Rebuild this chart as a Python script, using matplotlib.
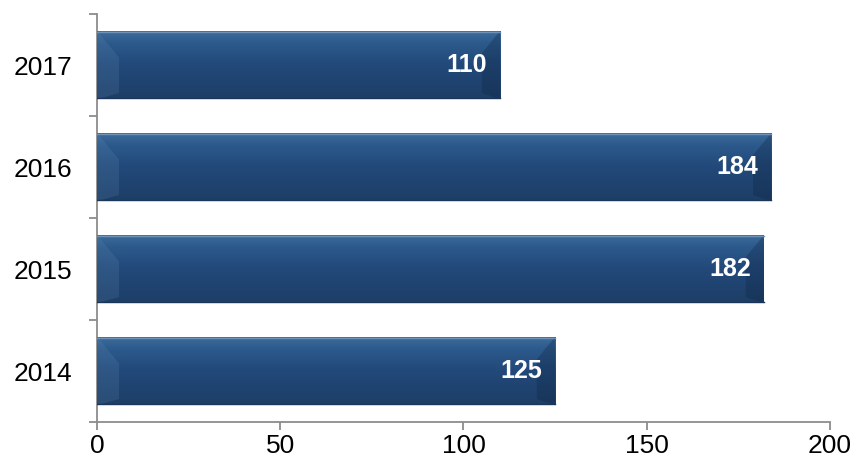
import numpy as np
import matplotlib
matplotlib.use("Agg")
import matplotlib.pyplot as plt
from matplotlib.colors import LinearSegmentedColormap
from matplotlib.patches import Polygon

years = ["2014", "2015", "2016", "2017"]
values = [125, 182, 184, 110]
x_ticks = [0, 50, 100, 150, 200]

plt.rcParams["font.family"] = ["Liberation Sans", "DejaVu Sans"]

fig = plt.figure(figsize=(8.64, 4.68), dpi=100)
ax = fig.add_axes([0.1123, 0.0983, 0.8483, 0.8717])

pos = np.arange(len(years))
bar_h = 0.67
bars = ax.barh(pos, values, height=bar_h, color="#23487a", edgecolor="none", zorder=2)

# vertical gradient for the glossy bar face
grad_cmap = LinearSegmentedColormap.from_list(
    "bevel", [(0.0, "#1d3e66"), (0.5, "#22497a"), (0.82, "#2c5a8c"), (1.0, "#3d6d9d")])
grad = np.linspace(0, 1, 256).reshape(-1, 1)

for bar, v, y in zip(bars, values, pos):
    y0, y1 = y - bar_h / 2, y + bar_h / 2
    im = ax.imshow(grad, extent=(0, v, y0, y1), origin="lower", cmap=grad_cmap,
                   aspect="auto", zorder=3, interpolation="bilinear")
    im.set_clip_path(bar)
    # left bevel (lighter facet)
    ax.add_patch(Polygon([(0, y1), (6.0, y1 - 0.26), (6.0, y0 + 0.06), (0, y0)],
                         closed=True, facecolor="#6b93bb", alpha=0.18, edgecolor="none", zorder=4))
    # right bevel (darker facet)
    ax.add_patch(Polygon([(v, y1), (v - 5.0, y1 - 0.22), (v - 5.0, y0 + 0.06), (v, y0)],
                         closed=True, facecolor="#0f2440", alpha=0.3, edgecolor="none", zorder=4))
    # soft top highlight and bottom edge
    ax.plot([0, v], [y1 - 0.01, y1 - 0.01], color="#6f93b8", lw=1.0, zorder=5)
    ax.plot([0, v], [y0 + 0.01, y0 + 0.01], color="#1a3658", lw=1.0, zorder=5)
    ax.annotate(str(v), xy=(v, y), xytext=(-9.5, 0), textcoords="offset points",
                ha="right", va="center", color="white", fontsize=18, fontweight="bold",
                zorder=6)

ax.set_xlim(0, 200)
ax.set_ylim(-0.5, len(years) - 0.5)
ax.set_xticks(x_ticks)
ax.set_xticklabels([str(t) for t in x_ticks])

ax.set_yticks(np.arange(-0.5, len(years), 1.0))
ax.set_yticklabels([])
ax.set_yticks(pos, minor=True)
ax.set_yticklabels(years, minor=True)

for s in ("top", "right"):
    ax.spines[s].set_visible(False)
for s in ("left", "bottom"):
    ax.spines[s].set_color("#8c8c8c")
    ax.spines[s].set_linewidth(1.3)

ax.tick_params(axis="x", which="major", direction="out", length=6, width=1.3,
               color="#8c8c8c", labelsize=19, pad=3)
ax.tick_params(axis="y", which="major", direction="out", length=6, width=1.3,
               color="#8c8c8c")
ax.tick_params(axis="y", which="minor", length=0, labelsize=19, pad=18)

fig.savefig("out.png", dpi=100)
